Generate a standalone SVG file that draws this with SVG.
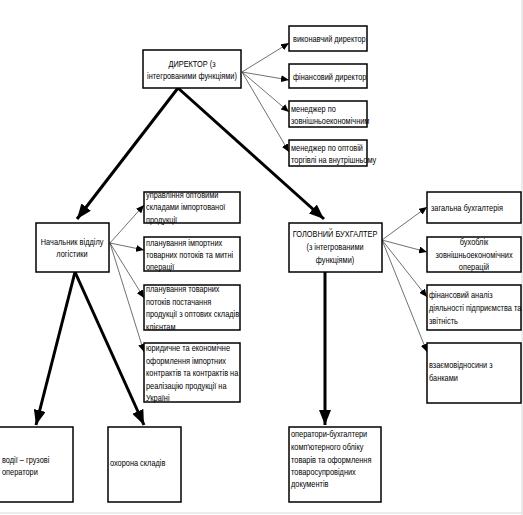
<svg xmlns="http://www.w3.org/2000/svg" width="523" height="515" viewBox="0 0 523 515">
<style>
.b{fill:#fff;stroke:#000;stroke-width:1.5}
text{font-family:"Liberation Sans",Arial,sans-serif;font-size:9px;fill:#000;transform-box:fill-box;transform-origin:0 50%;transform:scaleX(0.82)}
text.c{text-anchor:middle;transform-origin:50% 50%}
.thick{stroke:#000;stroke-width:3;fill:none}
.thin{stroke:#333;stroke-width:0.7;fill:none}
</style>
<defs>
<marker id="ah" markerWidth="5" markerHeight="4" refX="5" refY="2" orient="auto" markerUnits="strokeWidth"><path d="M0,0L5,2L0,4Z" fill="#000"/></marker>
<marker id="as" markerWidth="8" markerHeight="7" refX="8" refY="3.5" orient="auto" markerUnits="userSpaceOnUse"><path d="M0,0L8,3.5L0,7Z" fill="#000"/></marker>
</defs>
<rect x="0" y="0" width="523" height="515" fill="#fff"/>
<line x1="0" y1="513" x2="523" y2="513" stroke="#e6e6e6" stroke-width="1.5"/>
<line x1="522" y1="0" x2="522" y2="515" stroke="#e6e6e6" stroke-width="1.5"/>
<g id="connectors">
<line class="thick" x1="178" y1="88" x2="77" y2="219" marker-end="url(#ah)"/>
<line class="thick" x1="178" y1="88" x2="324" y2="219" marker-end="url(#ah)"/>
<line class="thick" x1="75" y1="272" x2="36" y2="425" marker-end="url(#ah)"/>
<line class="thick" x1="75" y1="272" x2="144" y2="425" marker-end="url(#ah)"/>
<line class="thick" x1="325" y1="272" x2="325" y2="425" marker-end="url(#ah)"/>
<line class="thin" x1="242" y1="72" x2="289" y2="43" marker-end="url(#as)"/>
<line class="thin" x1="242" y1="72" x2="289" y2="80" marker-end="url(#as)"/>
<line class="thin" x1="242" y1="72" x2="289" y2="112" marker-end="url(#as)"/>
<line class="thin" x1="242" y1="72" x2="289" y2="152" marker-end="url(#as)"/>
<line class="thin" x1="110" y1="243" x2="144" y2="205" marker-end="url(#as)"/>
<line class="thin" x1="110" y1="243" x2="144" y2="250" marker-end="url(#as)"/>
<line class="thin" x1="110" y1="243" x2="144" y2="298" marker-end="url(#as)"/>
<line class="thin" x1="110" y1="243" x2="144" y2="352" marker-end="url(#as)"/>
<line class="thin" x1="382" y1="240" x2="427" y2="207" marker-end="url(#as)"/>
<line class="thin" x1="382" y1="240" x2="427" y2="252" marker-end="url(#as)"/>
<line class="thin" x1="382" y1="240" x2="427" y2="297" marker-end="url(#as)"/>
<line class="thin" x1="382" y1="240" x2="427" y2="352" marker-end="url(#as)"/>
</g>
<g id="director"><rect class="b" x="143" y="50" width="98" height="38"/>
<text class="c" x="192" y="67">ДИРЕКТОР (з</text><text class="c" x="192" y="79">інтегрованими функціями)</text></g>
<g id="exec"><rect class="b" x="289" y="26" width="78" height="25"/><text x="293" y="42">виконавчий директор</text></g>
<g id="fin"><rect class="b" x="289" y="64" width="78" height="24"/><text x="293" y="80">фінансовий директор</text></g>
<g id="mgr-ext"><rect class="b" x="289" y="101" width="78" height="26"/><text x="291" y="112">менеджер по</text><text x="291" y="124">зовнішньоекономічним</text></g>
<g id="mgr-whole"><rect class="b" x="289" y="140" width="78" height="26"/><text x="291" y="151">менеджер по оптовій</text><text x="291" y="163">торгівлі на внутрішньому</text></g>
<g id="logistics"><rect class="b" x="36" y="223" width="73" height="49"/>
<text class="c" x="72" y="245">Начальник відділу</text><text class="c" x="72" y="257">логістики</text></g>
<g id="l1"><rect class="b" x="144" y="192" width="96" height="31"/><text x="146" y="198">управління оптовими</text><text x="146" y="210">складами імпортованої</text><text x="146" y="223">продукції</text></g>
<g id="l2"><rect class="b" x="144" y="237" width="96" height="34"/><text x="146" y="246"> планування імпортних</text><text x="146" y="258">товарних потоків та митні</text><text x="146" y="270">операції</text></g>
<g id="l3"><rect class="b" x="144" y="285" width="96" height="45"/><text x="146" y="292">планування товарних</text><text x="146" y="305">потоків постачання</text><text x="146" y="317">продукції з оптових складів</text><text x="146" y="330">клієнтам</text></g>
<g id="l4"><rect class="b" x="144" y="343" width="96" height="59"/><text x="146" y="351">юридичне та економічне</text><text x="146" y="364">оформлення імпортних</text><text x="146" y="376">контрактів та контрактів на</text><text x="146" y="389">реалізацію продукції на</text><text x="146" y="401">Україні</text></g>
<g id="accountant"><rect class="b" x="289" y="223" width="93" height="49"/>
<text class="c" x="335" y="237">ГОЛОВНИЙ БУХГАЛТЕР</text><text class="c" x="335" y="250">(з інтегрованими</text><text class="c" x="335" y="263">функціями)</text></g>
<g id="r1"><rect class="b" x="427" y="192" width="94" height="31"/><text x="431" y="211">загальна бухгалтерія</text></g>
<g id="r2"><rect class="b" x="427" y="237" width="94" height="35"/><text class="c" x="474" y="245">бухоблік</text><text class="c" x="474" y="258">зовнішньоекономічних</text><text class="c" x="474" y="270">операцій</text></g>
<g id="r3"><rect class="b" x="427" y="285" width="94" height="45"/><text x="429" y="298">фінансовий аналіз</text><text x="429" y="311">діяльності підприємства та</text><text x="429" y="324">звітність</text></g>
<g id="r4"><rect class="b" x="427" y="343" width="94" height="60"/><text x="429" y="368">взаємовідносини з</text><text x="429" y="381">банками</text></g>
<g id="drivers"><rect class="b" x="-2" y="427" width="75" height="75"/><text x="2" y="463">водії – грузові</text><text x="2" y="475">оператори</text></g>
<g id="guard"><rect class="b" x="108" y="427" width="73" height="75"/><text x="110" y="466">охорона складів</text></g>
<g id="operators"><rect class="b" x="289" y="427" width="92" height="75"/><text x="291" y="437">оператори-бухгалтери</text><text x="291" y="450">комп'ютерного обліку</text><text x="291" y="463">товарів та оформлення</text><text x="291" y="475">товаросупровідних</text><text x="291" y="487">документів</text></g>
</svg>
